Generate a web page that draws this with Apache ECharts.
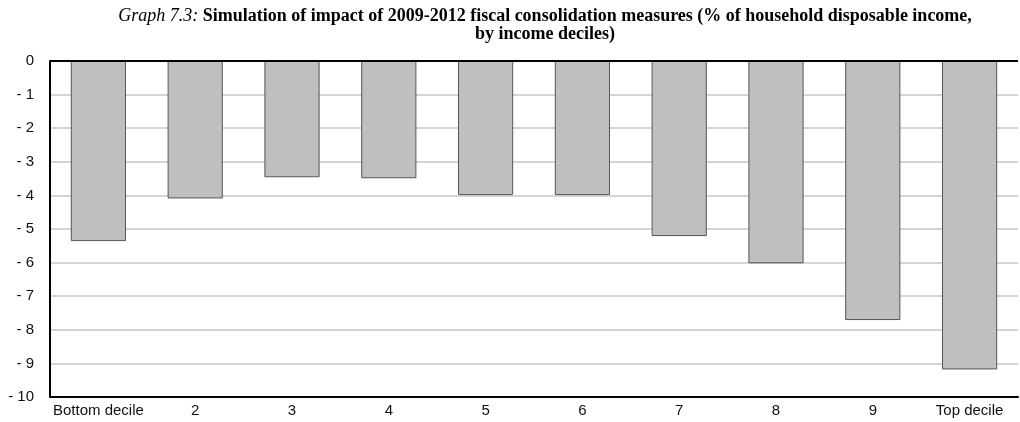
<!DOCTYPE html>
<html>
<head>
<meta charset="utf-8">
<script src="https://cdn.jsdelivr.net/npm/echarts@6/dist/echarts.min.js"></script>
<style>
  html, body { margin: 0; padding: 0; background: #fff; }
  #chart { width: 1020px; height: 422px; }
</style>
</head>
<body>
<div id="chart"></div>
<script>
// deciles
var categories = ["Bottom decile", "2", "3", "4", "5", "6", "7", "8", "9", "Top decile"];
// % of household disposable income
var impact = [-5.36, -4.09, -3.46, -3.49, -3.99, -3.99, -5.21, -6.02, -7.71, -9.18];
var yTicks = { min: -10, max: 0, step: 1 };

var labelFont = '"Liberation Sans Narrow", "Arial Narrow", "Liberation Sans", sans-serif';
var serif = '"Liberation Serif", "Times New Roman", serif';

var myChart = echarts.init(document.getElementById("chart"));
myChart.setOption({
  animation: false,
  title: {
    left: 540,
    textAlign: "center",
    top: 2,
    text: "{i|Graph 7.3:} {b|Simulation of impact of 2009-2012 fiscal consolidation measures (% of household disposable income,}\n{b|by income deciles)}",
    textStyle: {
      fontFamily: serif,
      fontWeight: "normal",
      lineHeight: 18,
      rich: {
        i: { fontStyle: "italic", fontWeight: "normal", fontSize: 18, fontFamily: serif, color: "#000", lineHeight: 18 },
        b: { fontWeight: "bold", fontSize: 18, fontFamily: serif, color: "#000", lineHeight: 18 }
      }
    }
  },
  grid: {
    left: 50,
    right: 2,
    top: 61,
    bottom: 25
  },
  xAxis: {
    type: "category",
    data: categories,
    axisLine: { show: true, onZero: false, lineStyle: { color: "#000", width: 2 } },
    axisTick: { show: false },
    axisLabel: {
      color: "#111",
      fontSize: 15,
      fontFamily: labelFont,
      margin: 6,
      interval: 0
    },
    z: 5
  },
  yAxis: {
    type: "value",
    min: yTicks.min,
    max: yTicks.max,
    interval: yTicks.step,
    axisLine: { show: true, lineStyle: { color: "#000", width: 2 } },
    axisTick: { show: false },
    axisLabel: {
      color: "#111",
      fontSize: 15,
      fontFamily: labelFont,
      margin: 16,
      formatter: function (v) { return v === 0 ? "0" : "- " + Math.abs(v); }
    },
    splitLine: { show: true, lineStyle: { color: "#d4d4d4", width: 2 } }
  },
  series: [
    {
      type: "bar",
      data: impact,
      barWidth: "57%",
      itemStyle: {
        color: "#bfbfbf",
        borderColor: "#555",
        borderWidth: 1
      },
      // black zero line on top of the bars
      markLine: {
        silent: true,
        symbol: "none",
        label: { show: false },
        lineStyle: { color: "#000", width: 2, type: "solid" },
        data: [{ yAxis: 0 }]
      }
    }
  ]
});
</script>
</body>
</html>
